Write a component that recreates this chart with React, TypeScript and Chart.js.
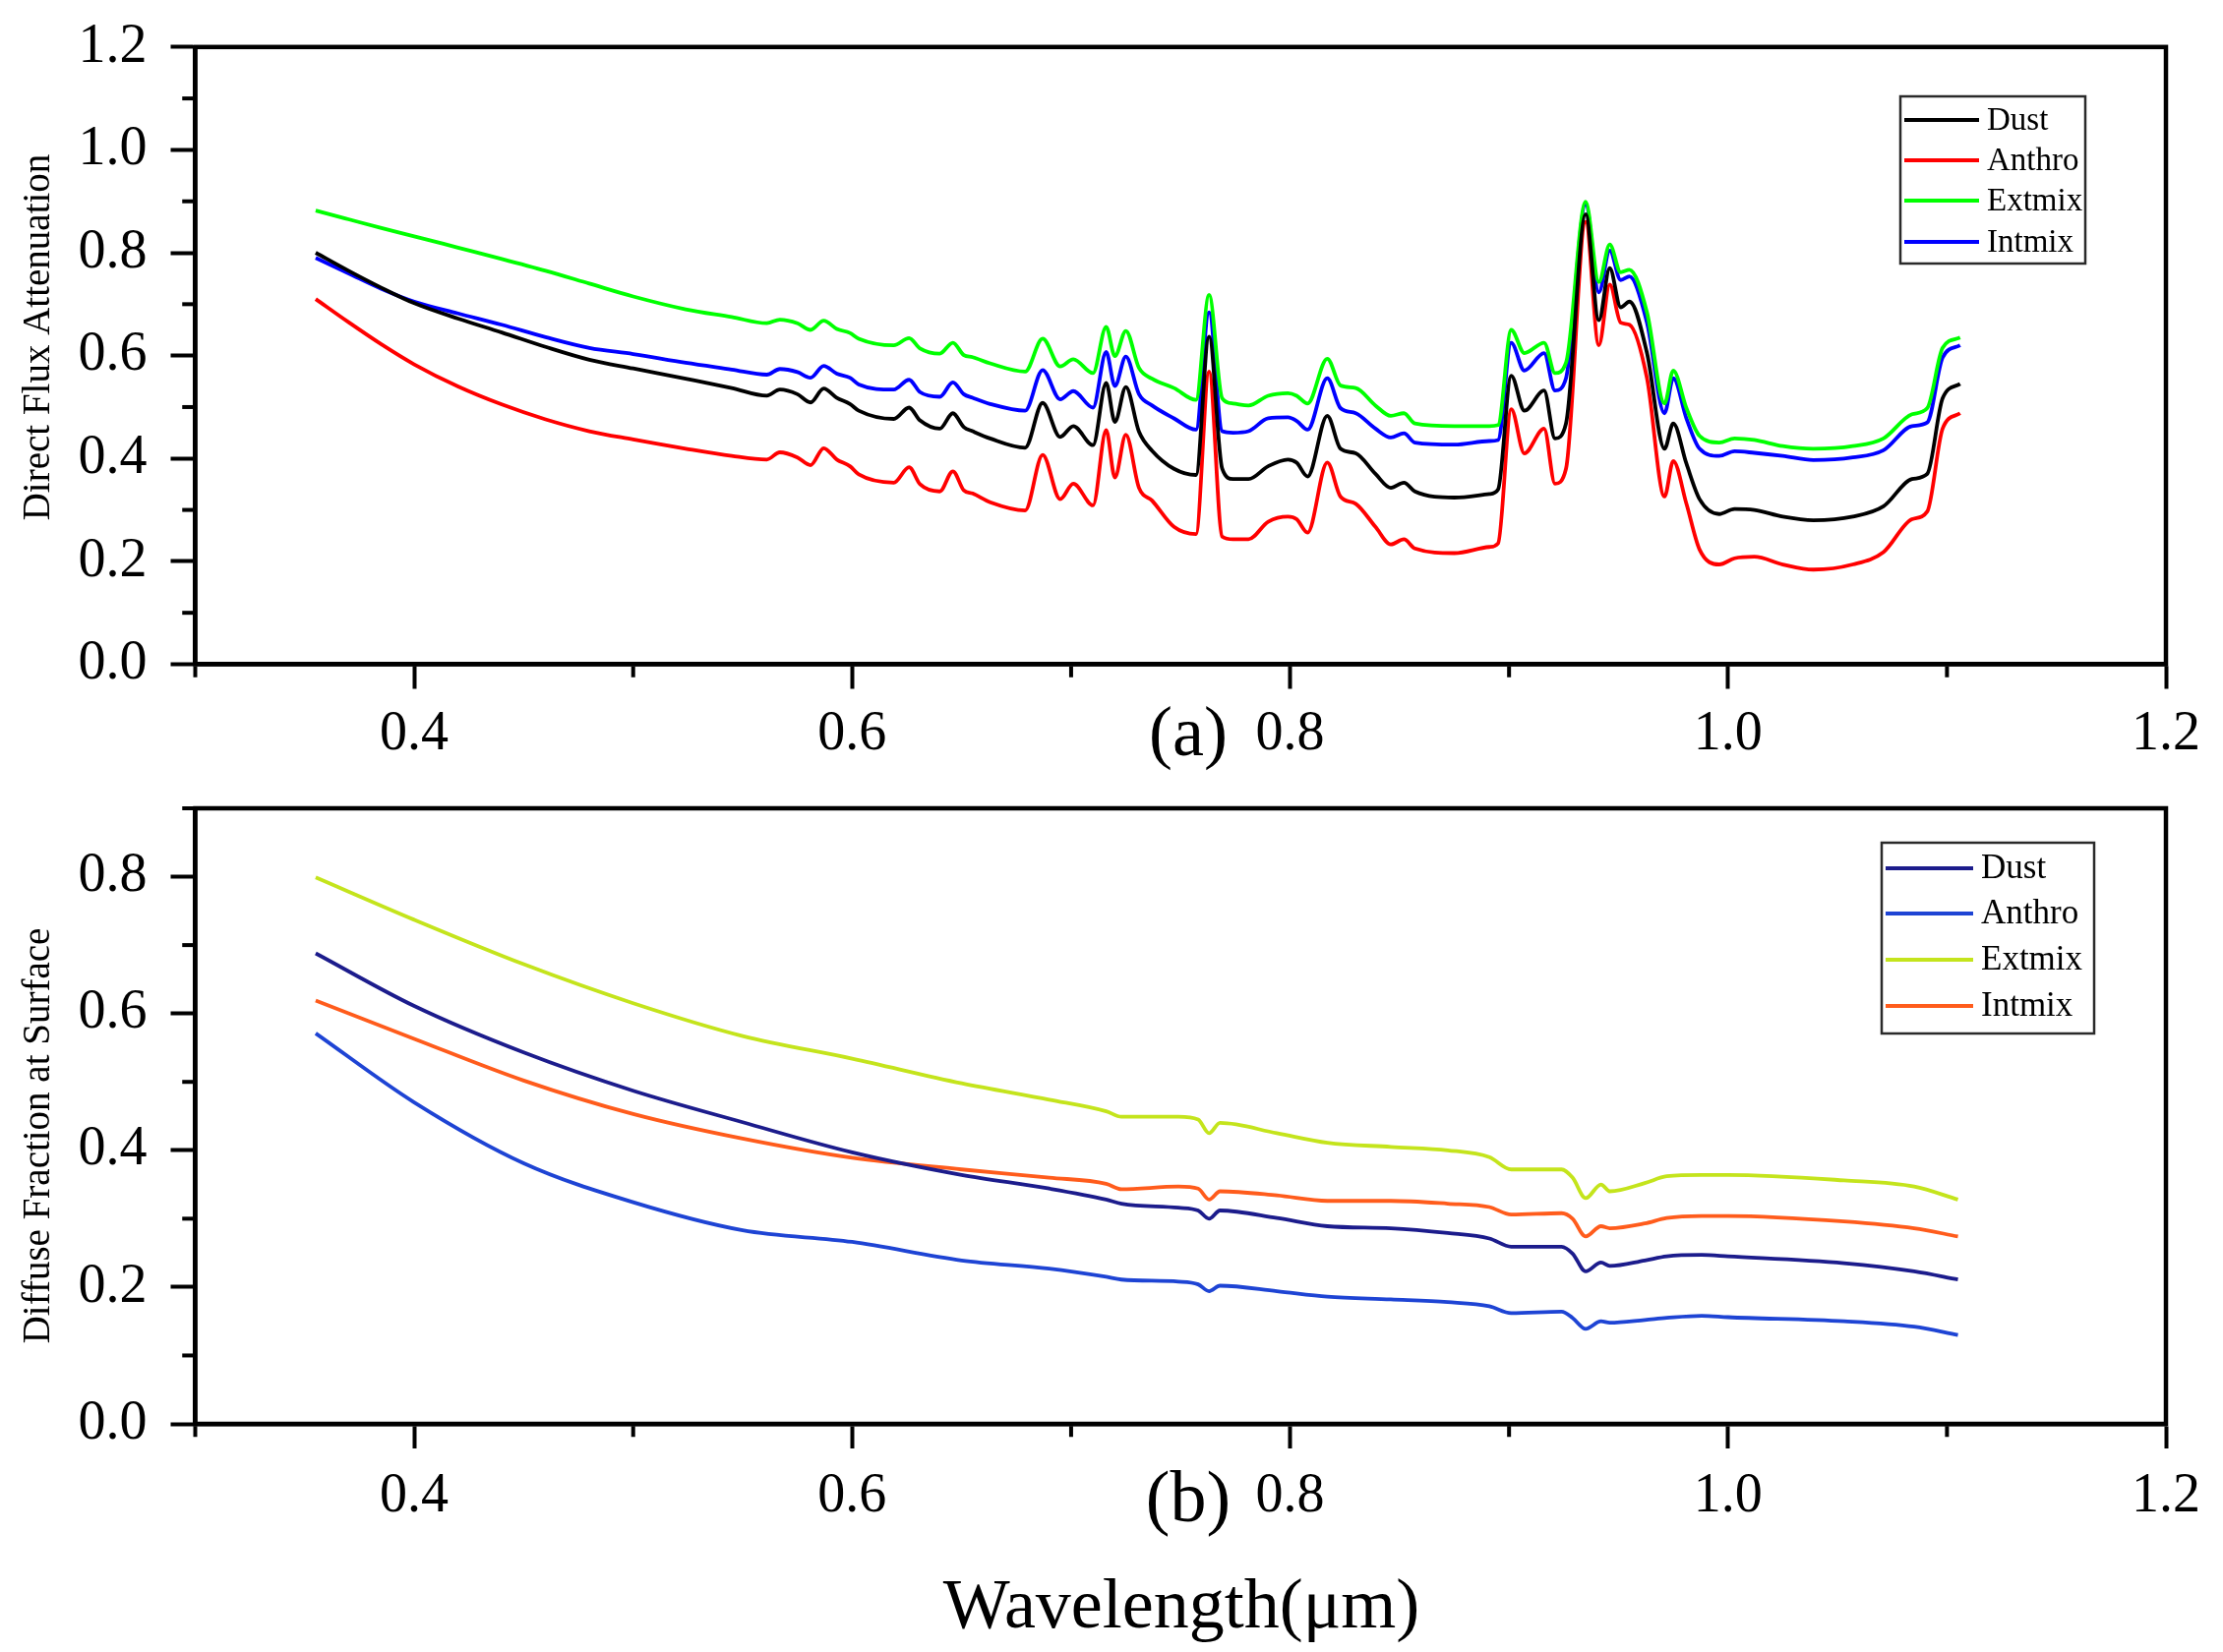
import React, { useEffect, useRef } from "react";
import { Chart, registerables } from "chart.js";

Chart.register(...registerables);

// ---------------- Data ----------------
const SERIES_NAMES = ["Dust", "Anthro", "Extmix", "Intmix"];

// Panel (a): Direct Flux Attenuation
const WL_TOP = [
  0.355, 0.37, 0.385, 0.4, 0.42, 0.44, 0.46, 0.48, 0.5, 0.524, 0.545,
  0.561, 0.567, 0.575, 0.581, 0.587, 0.593, 0.599, 0.603, 0.619, 0.626, 0.631, 0.64, 0.646, 0.651, 0.655, 0.663,
  0.679, 0.687, 0.695, 0.701, 0.71, 0.716, 0.72, 0.725, 0.731, 0.737, 0.747,
  0.757, 0.763, 0.769, 0.774, 0.781, 0.79, 0.799, 0.803, 0.808, 0.817, 0.823, 0.83, 0.839, 0.846, 0.852, 0.857,
  0.875, 0.891, 0.895, 0.901, 0.907, 0.916, 0.921, 0.926, 0.935, 0.941, 0.946, 0.951, 0.955, 0.963, 0.971, 0.975,
  0.981, 0.987, 0.996, 1.003, 1.012, 1.025, 1.039, 1.057, 1.071, 1.084, 1.091, 1.098, 1.106,
];
const DUST_TOP = [
  0.8, 0.765, 0.732, 0.702, 0.672, 0.645, 0.617, 0.592, 0.575, 0.555, 0.537,
  0.522, 0.534, 0.525, 0.509, 0.536, 0.518, 0.506, 0.493, 0.477, 0.499, 0.474, 0.458, 0.488, 0.461, 0.453, 0.439,
  0.421, 0.508, 0.442, 0.463, 0.426, 0.547, 0.471, 0.539, 0.452, 0.415, 0.38,
  0.368, 0.637, 0.38, 0.36, 0.36, 0.385, 0.398, 0.392, 0.365, 0.483, 0.419, 0.41, 0.37, 0.343, 0.353, 0.336,
  0.324, 0.331, 0.34, 0.561, 0.493, 0.532, 0.439, 0.468, 0.875, 0.669, 0.77, 0.694, 0.705, 0.605, 0.419, 0.468,
  0.39, 0.321, 0.292, 0.302, 0.3, 0.287, 0.28, 0.287, 0.307, 0.36, 0.37, 0.517, 0.545,
];
const ANTHRO_TOP = [
  0.71, 0.665, 0.622, 0.583, 0.54, 0.505, 0.476, 0.453, 0.437, 0.419, 0.405,
  0.398, 0.412, 0.402, 0.387, 0.42, 0.398, 0.385, 0.369, 0.353, 0.383, 0.35, 0.336, 0.375, 0.338, 0.332, 0.315,
  0.299, 0.407, 0.321, 0.351, 0.309, 0.455, 0.363, 0.446, 0.343, 0.318, 0.267,
  0.253, 0.569, 0.248, 0.243, 0.243, 0.277, 0.287, 0.282, 0.256, 0.392, 0.326, 0.312, 0.267, 0.233, 0.243, 0.225,
  0.216, 0.228, 0.235, 0.496, 0.41, 0.458, 0.351, 0.38, 0.86, 0.62, 0.738, 0.664, 0.66, 0.556, 0.326, 0.395,
  0.312, 0.223, 0.194, 0.206, 0.209, 0.194, 0.184, 0.194, 0.218, 0.282, 0.297, 0.458, 0.488,
];
const EXTMIX_TOP = [
  0.882, 0.865, 0.848, 0.832, 0.81, 0.788, 0.765, 0.74, 0.715, 0.69, 0.675,
  0.663, 0.67, 0.663, 0.65, 0.668, 0.652, 0.644, 0.633, 0.62, 0.634, 0.614, 0.604, 0.625, 0.601, 0.597, 0.585,
  0.569, 0.633, 0.579, 0.593, 0.566, 0.656, 0.599, 0.648, 0.576, 0.555, 0.537,
  0.514, 0.718, 0.517, 0.507, 0.503, 0.522, 0.527, 0.522, 0.507, 0.594, 0.542, 0.537, 0.503, 0.483, 0.488, 0.468,
  0.463, 0.463, 0.465, 0.65, 0.605, 0.625, 0.566, 0.586, 0.899, 0.743, 0.816, 0.762, 0.767, 0.684, 0.507, 0.571,
  0.498, 0.444, 0.431, 0.439, 0.436, 0.424, 0.419, 0.424, 0.439, 0.486, 0.498, 0.615, 0.635,
];
const INTMIX_TOP = [
  0.79, 0.76, 0.73, 0.705, 0.682, 0.66, 0.636, 0.615, 0.603, 0.586, 0.573,
  0.563, 0.574, 0.568, 0.557, 0.58, 0.565, 0.557, 0.544, 0.534, 0.553, 0.529, 0.52, 0.548, 0.525, 0.518, 0.506,
  0.493, 0.572, 0.515, 0.531, 0.499, 0.607, 0.541, 0.598, 0.525, 0.503, 0.478,
  0.456, 0.684, 0.453, 0.45, 0.453, 0.478, 0.48, 0.473, 0.456, 0.556, 0.498, 0.488, 0.458, 0.441, 0.449, 0.431,
  0.427, 0.434, 0.436, 0.625, 0.571, 0.605, 0.532, 0.556, 0.894, 0.723, 0.804, 0.747, 0.754, 0.664, 0.488, 0.556,
  0.478, 0.419, 0.405, 0.414, 0.411, 0.405, 0.397, 0.402, 0.416, 0.463, 0.47, 0.596, 0.62,
];

// Panel (b): Diffuse Fraction at Surface
const WL_BOTTOM = [
  0.355, 0.4, 0.45, 0.5, 0.55, 0.6, 0.65, 0.69,
  0.716, 0.723, 0.749, 0.758, 0.763, 0.768, 0.794, 0.817,
  0.846, 0.872, 0.891, 0.901, 0.924, 0.929, 0.935, 0.942,
  0.946, 0.962, 0.972, 0.988, 1.0, 1.053, 1.085, 1.105,
];
const DUST_BOTTOM = [
  0.688, 0.611, 0.543, 0.487, 0.441, 0.397, 0.364, 0.344,
  0.328, 0.322, 0.316, 0.312, 0.3, 0.312, 0.301, 0.289,
  0.286, 0.279, 0.271, 0.259, 0.259, 0.249, 0.223, 0.236,
  0.231, 0.239, 0.245, 0.247, 0.245, 0.235, 0.223, 0.211,
];
const ANTHRO_BOTTOM = [
  0.571, 0.47, 0.381, 0.324, 0.283, 0.266, 0.239, 0.227,
  0.215, 0.211, 0.208, 0.204, 0.194, 0.202, 0.194, 0.186,
  0.182, 0.178, 0.172, 0.162, 0.164, 0.155, 0.139, 0.15,
  0.148, 0.152, 0.155, 0.158, 0.156, 0.15, 0.142, 0.13,
];
const EXTMIX_BOTTOM = [
  0.799, 0.737, 0.672, 0.615, 0.567, 0.534, 0.498, 0.474,
  0.457, 0.449, 0.449, 0.445, 0.425, 0.44, 0.425, 0.411,
  0.405, 0.4, 0.39, 0.372, 0.372, 0.36, 0.33, 0.35,
  0.34, 0.352, 0.362, 0.364, 0.364, 0.356, 0.347, 0.328,
];
const INTMIX_BOTTOM = [
  0.619, 0.563, 0.502, 0.453, 0.417, 0.389, 0.372, 0.36,
  0.351, 0.343, 0.347, 0.344, 0.328, 0.34, 0.334, 0.326,
  0.326, 0.322, 0.317, 0.306, 0.308, 0.3, 0.274, 0.289,
  0.286, 0.293, 0.301, 0.304, 0.304, 0.296, 0.286, 0.274,
];

// Tick values
const X_MAJOR = [0.4, 0.6, 0.8, 1.0, 1.2];
const X_MINOR = [0.3, 0.5, 0.7, 0.9, 1.1];
const Y_TOP_MAJOR = [0, 0.2, 0.4, 0.6, 0.8, 1.0, 1.2];
const Y_TOP_MINOR = [0.1, 0.3, 0.5, 0.7, 0.9, 1.1];
const Y_BOT_MAJOR = [0, 0.2, 0.4, 0.6, 0.8];
const Y_BOT_MINOR = [0.1, 0.3, 0.5, 0.7, 0.9];

// Colours
const TOP_COLORS = ["#000000", "#ff0000", "#00ff00", "#0000ff"];
const BOTTOM_COLORS = ["#1c1c8c", "#1e44d4", "#c4e41c", "#ff5c1c"];

// ---------------- Layout constants ----------------
const W = 2260;
const SERIF = '"Liberation Serif", "Times New Roman", serif';
const FRAME_W = 4.5;
const MAJOR_LEN = 25;
const MINOR_LEN = 11;
const PLOT_LEFT = 198.5;
const PAD_RIGHT = W - 2202;

const decorPlugin = {
  id: "panelDecor",
  afterDraw(chart: any, _args: any, o: any) {
    const { ctx, chartArea: a } = chart;
    const xs = chart.scales.x;
    const ys = chart.scales.y;
    const half = FRAME_W / 2;
    ctx.save();
    // minor ticks
    ctx.strokeStyle = "#000";
    ctx.lineWidth = 4;
    ctx.lineCap = "butt";
    for (const v of o.minorX) {
      const px = xs.getPixelForValue(v);
      ctx.beginPath();
      ctx.moveTo(px, a.bottom + half);
      ctx.lineTo(px, a.bottom + half + MINOR_LEN);
      ctx.stroke();
    }
    for (const v of o.minorY) {
      const py = ys.getPixelForValue(v);
      ctx.beginPath();
      ctx.moveTo(a.left - half, py);
      ctx.lineTo(a.left - half - MINOR_LEN, py);
      ctx.stroke();
    }
    // frame
    ctx.lineWidth = FRAME_W;
    ctx.strokeRect(a.left, a.top, a.right - a.left, a.bottom - a.top);

    // legend
    const L = o.legend;
    ctx.fillStyle = "#ffffff";
    ctx.fillRect(L.x, L.y, L.w, L.h);
    ctx.lineWidth = 2.5;
    ctx.strokeStyle = "#2a2a2a";
    ctx.strokeRect(L.x, L.y, L.w, L.h);
    ctx.font = `${L.font}px ${SERIF}`;
    ctx.textBaseline = "middle";
    ctx.textAlign = "left";
    chart.data.datasets.forEach((ds: any, i: number) => {
      const ry = L.y + L.rows[i];
      ctx.strokeStyle = ds.borderColor;
      ctx.lineWidth = 4.2;
      ctx.beginPath();
      ctx.moveTo(L.x + L.lineX1, ry);
      ctx.lineTo(L.x + L.lineX2, ry);
      ctx.stroke();
      ctx.fillStyle = "#000";
      ctx.fillText(ds.label, L.x + L.textX, ry + 1);
    });

    // panel label
    ctx.fillStyle = "#000";
    ctx.textAlign = "center";
    ctx.textBaseline = "middle";
    ctx.font = `${o.panelFont}px ${SERIF}`;
    ctx.fillText(o.panel, o.panelX, o.panelY);

    // y title
    ctx.save();
    ctx.translate(o.yTitleX, o.yTitleY);
    ctx.rotate(-Math.PI / 2);
    ctx.font = `${o.yTitleFont}px ${SERIF}`;
    ctx.fillText(o.yTitle, 0, 0);
    ctx.restore();

    // x title
    if (o.xTitle) {
      ctx.font = `${o.xTitleFont}px ${SERIF}`;
      ctx.fillText(o.xTitle, o.xTitleX, o.xTitleY);
    }
    ctx.restore();
  },
};

function makeConfig(p: any) {
  const tickFont = { family: SERIF, size: 56 };
  return {
    type: "line",
    data: {
      datasets: p.series.map((vals: number[], i: number) => ({
        label: SERIES_NAMES[i],
        data: p.wl.map((x: number, j: number) => ({ x, y: vals[j] })),
        borderColor: p.colors[i],
        backgroundColor: p.colors[i],
        borderWidth: 3.8,
        pointRadius: 0,
        fill: false,
        cubicInterpolationMode: "monotone",
        borderJoinStyle: "round",
      })),
    },
    options: {
      responsive: false,
      animation: false,
      devicePixelRatio: 1,
      events: [],
      layout: { padding: { left: 0, top: p.padTop, right: PAD_RIGHT, bottom: 0 } },
      plugins: {
        legend: { display: false },
        tooltip: { enabled: false },
        title: { display: false },
        panelDecor: p.decor,
      },
      scales: {
        x: {
          type: "linear",
          min: 0.3,
          max: 1.2,
          afterBuildTicks: (s: any) => {
            s.ticks = X_MAJOR.map((v) => ({ value: v }));
          },
          afterFit: (s: any) => {
            s.height = p.xAxisHeight;
            s.paddingLeft = 0;
            s.paddingRight = 0;
          },
          ticks: {
            font: tickFont,
            color: "#000",
            padding: p.xTickPad,
            maxRotation: 0,
            minRotation: 0,
            autoSkip: false,
            callback: (v: any) => Number(v).toFixed(1),
          },
          grid: {
            display: true,
            drawOnChartArea: false,
            drawTicks: true,
            tickLength: MAJOR_LEN,
            tickWidth: 4,
            tickColor: "#000",
          },
          border: { display: true, color: "#000", width: FRAME_W },
        },
        y: {
          type: "linear",
          min: 0,
          max: p.yMax,
          afterBuildTicks: (s: any) => {
            s.ticks = p.yMajor.map((v: number) => ({ value: v }));
          },
          afterFit: (s: any) => {
            s.width = PLOT_LEFT;
            s.paddingTop = 0;
            s.paddingBottom = 0;
          },
          ticks: {
            font: tickFont,
            color: "#000",
            padding: 24,
            autoSkip: false,
            callback: (v: any) => Number(v).toFixed(1),
          },
          grid: {
            display: true,
            drawOnChartArea: false,
            drawTicks: true,
            tickLength: MAJOR_LEN,
            tickWidth: 4,
            tickColor: "#000",
          },
          border: { display: true, color: "#000", width: FRAME_W },
        },
      },
    },
    plugins: [decorPlugin],
  };
}

const TOP_H = 800;
const BOT_H = 880;

export default function App() {
  const topRef = useRef<HTMLCanvasElement>(null);
  const botRef = useRef<HTMLCanvasElement>(null);

  useEffect(() => {
    const topChart = new Chart(
      topRef.current as HTMLCanvasElement,
      makeConfig({
        wl: WL_TOP,
        series: [DUST_TOP, ANTHRO_TOP, EXTMIX_TOP, INTMIX_TOP],
        colors: TOP_COLORS,
        padTop: 47.8,
        xAxisHeight: TOP_H - 675.5,
        xTickPad: 13,
        yMax: 1.2,
        yMajor: Y_TOP_MAJOR,
        decor: {
          minorX: X_MINOR,
          minorY: Y_TOP_MINOR,
          legend: {
            x: 1932, y: 98, w: 188, h: 170,
            rows: [24, 65, 106, 148],
            lineX1: 4, lineX2: 80, textX: 88, font: 33,
          },
          panel: "(a)", panelFont: 72, panelX: 1208, panelY: 749,
          yTitle: "Direct Flux Attenuation", yTitleFont: 39, yTitleX: 40, yTitleY: 343,
        },
      }) as any
    );
    const botChart = new Chart(
      botRef.current as HTMLCanvasElement,
      makeConfig({
        wl: WL_BOTTOM,
        series: [DUST_BOTTOM, ANTHRO_BOTTOM, EXTMIX_BOTTOM, INTMIX_BOTTOM],
        colors: BOTTOM_COLORS,
        padTop: 822 - TOP_H,
        xAxisHeight: BOT_H - (1448 - TOP_H),
        xTickPad: 16,
        yMax: 0.9,
        yMajor: Y_BOT_MAJOR,
        decor: {
          minorX: X_MINOR,
          minorY: Y_BOT_MINOR,
          legend: {
            x: 1913, y: 57, w: 216, h: 194,
            rows: [26, 72, 119, 166],
            lineX1: 4, lineX2: 93, textX: 101, font: 35,
          },
          panel: "(b)", panelFont: 74, panelX: 1208, panelY: 728,
          yTitle: "Diffuse Fraction at Surface", yTitleFont: 39, yTitleX: 40, yTitleY: 355,
          xTitle: "Wavelength(\u03bcm)", xTitleFont: 72, xTitleX: 1201, xTitleY: 836,
        },
      }) as any
    );
    return () => {
      topChart.destroy();
      botChart.destroy();
    };
  }, []);

  return (
    <div
      style={{
        position: "absolute",
        left: 0,
        top: 0,
        width: W,
        height: TOP_H + BOT_H,
        background: "#ffffff",
        overflow: "hidden",
      }}
    >
      <canvas
        ref={topRef}
        width={W}
        height={TOP_H}
        style={{ position: "absolute", left: 0, top: 0, width: W, height: TOP_H }}
      />
      <canvas
        ref={botRef}
        width={W}
        height={BOT_H}
        style={{ position: "absolute", left: 0, top: TOP_H, width: W, height: BOT_H }}
      />
    </div>
  );
}
